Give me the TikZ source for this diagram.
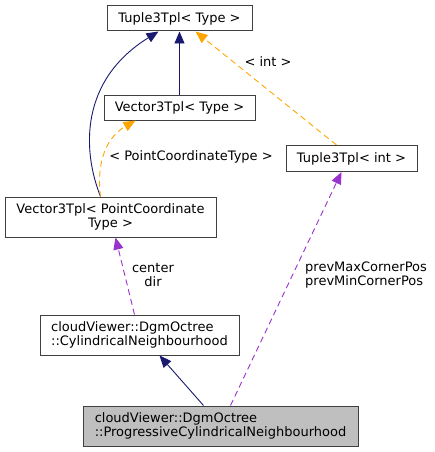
\documentclass[tikz,border=0pt]{standalone}
\usepackage{fontspec}
\setmainfont{DejaVu Sans}
\usetikzlibrary{arrows.meta}
\definecolor{navy}{HTML}{191970}
\definecolor{orng}{HTML}{FFA500}
\definecolor{purp}{HTML}{9A32CD}
\definecolor{bord}{HTML}{404040}
\begin{document}
\begin{tikzpicture}[x=1pt,y=-1pt,
  cls/.style={draw=bord,line width=1pt,fill=white,inner sep=0pt,font=\fontsize{13}{14.5}\selectfont,align=center},
  lbl/.style={font=\fontsize{13}{14.5}\selectfont,inner sep=0pt},
  tip/.style={-{Triangle[length=12pt,width=10pt]}},
  inh/.style={tip,draw=navy,line width=0.9pt},
  tmpl/.style={tip,draw=orng,dash pattern=on 6pt off 4pt,line width=0.9pt},
  usg/.style={tip,draw=purp,dash pattern=on 6pt off 4pt,line width=0.9pt}]
\useasboundingbox (0,0) rectangle (435,452);
\node[cls,minimum width=145pt,minimum height=25pt] (tt) at (179.5,18.5) {Tuple3Tpl< Type >};
\node[cls,minimum width=151pt,minimum height=25pt] (vt) at (179.5,107.5) {Vector3Tpl< Type >};
\node[cls,minimum width=131pt,minimum height=26pt] (ti) at (351.5,158.5) {Tuple3Tpl< int >};
\node[cls,minimum width=211pt,minimum height=40pt] (vp) at (110.5,217) {Vector3Tpl< PointCoordinate\\Type >};
\node[cls,minimum width=199pt,minimum height=40pt,align=left] (cn) at (139.5,335) {cloudViewer::DgmOctree\\::CylindricalNeighbourhood};
\node[cls,minimum width=275pt,minimum height=40pt,align=left,fill={rgb,255:red,191;green,191;blue,191}] (pc) at (220.5,426) {cloudViewer::DgmOctree\\::ProgressiveCylindricalNeighbourhood};
% edges
\draw[inh] (vt.north) -- (tt.south);
\draw[inh] ([xshift=-10pt]vp.north) .. controls (82,150) and (80,80) .. ([xshift=-21pt]tt.south);
\draw[tmpl] ([xshift=-10pt]vp.north) .. controls (97,170) and (102,140) .. ([xshift=-44pt]vt.south);
\node[lbl] (l1) at (191,157) {< PointCoordinateType >};
\draw[tmpl] ([xshift=-15pt]ti.north) -- ([xshift=16pt]tt.south);
\node[lbl] (l2) at (268,62) {< int >};
\draw[usg] ([xshift=-5pt]cn.north) -- ([xshift=5pt]vp.south);
\node[lbl,align=center] (l3) at (153,275) {center\\dir};
\draw[usg] ([xshift=10pt]pc.north) -- ([xshift=-10pt]ti.south);
\node[lbl,align=left,anchor=west] (l4) at (305,275) {prevMaxCornerPos\\prevMinCornerPos};
\draw[inh] ([xshift=-17pt]pc.north) -- ([xshift=20pt]cn.south);
\end{tikzpicture}
\end{document}
